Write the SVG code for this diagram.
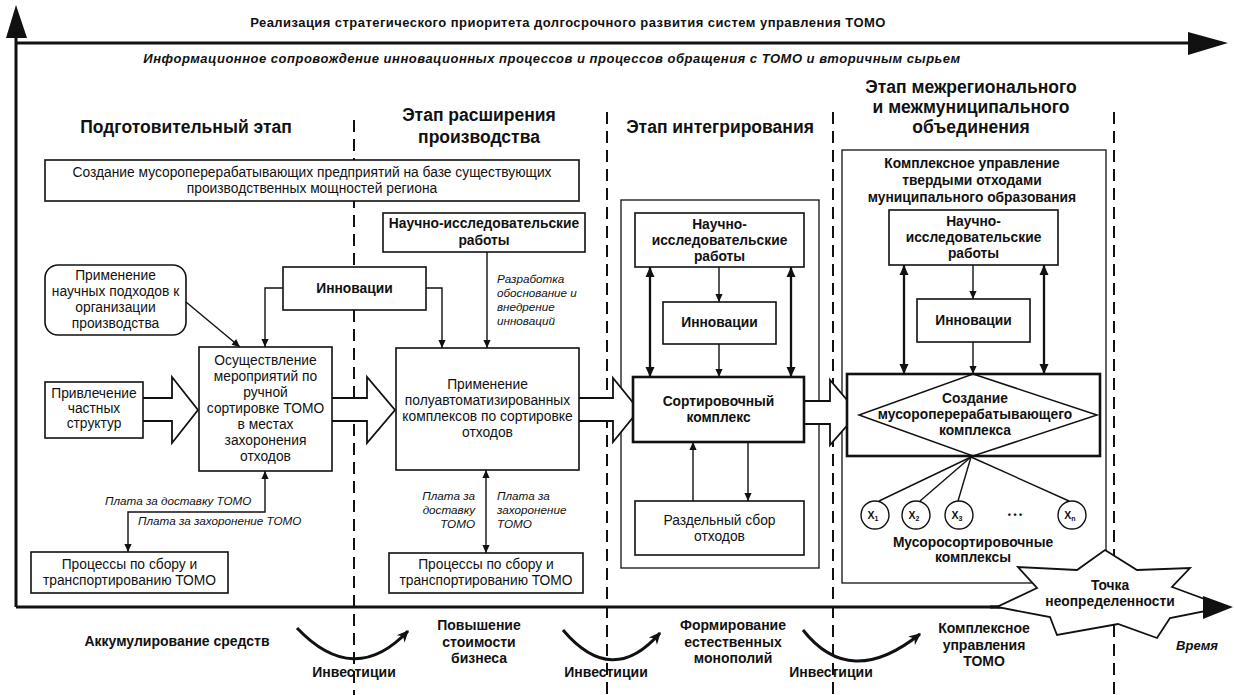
<svg xmlns="http://www.w3.org/2000/svg" width="1234" height="695" viewBox="0 0 1234 695">
  <defs>
    <style>
      text { font-family: "Liberation Sans", Arial, sans-serif; fill: #111; }
      .t { font-size: 13.8px; text-anchor: middle; }
      .b { font-size: 13.8px; font-weight: bold; text-anchor: middle; }
      .h { font-size: 17.5px; font-weight: bold; text-anchor: middle; }
      .i { font-size: 11.7px; font-style: italic; }
      .o { font-size: 14px; font-weight: bold; text-anchor: middle; }
      .box { fill: #fff; stroke: #111; stroke-width: 1.6; }
      .thick { fill: #fff; stroke: #111; stroke-width: 2.6; }
      .frame { fill: none; stroke: #111; stroke-width: 1.3; }
      .dash { stroke: #111; stroke-width: 2; stroke-dasharray: 12 7; fill: none; }
      .ln { fill: none; stroke: #111; stroke-width: 1.4; }
      .ln2 { fill: none; stroke: #111; stroke-width: 2.3; }
      .big { fill: #fff; stroke: #111; stroke-width: 1.8; stroke-linejoin: miter; }
      .axis { fill: none; stroke: #111; stroke-width: 3; }
      .curve { fill: none; stroke: #111; stroke-width: 3; }
    </style>
    <marker id="ah" viewBox="0 0 10 10" refX="10" refY="5" markerWidth="9" markerHeight="8" markerUnits="userSpaceOnUse" orient="auto-start-reverse">
      <path d="M0,0.5 L10,5 L0,9.5 z" fill="#111"/>
    </marker>
    <marker id="ahb" viewBox="0 0 10 10" refX="10" refY="5" markerWidth="14" markerHeight="10" markerUnits="userSpaceOnUse" orient="auto-start-reverse">
      <path d="M0,0.5 L10,5 L0,9.5 z" fill="#111"/>
    </marker>
    <marker id="ahc" viewBox="0 0 10 10" refX="9" refY="5" markerWidth="16" markerHeight="12" markerUnits="userSpaceOnUse" orient="auto">
      <path d="M0,0.5 L10,5 L0,9.5 L3,5 z" fill="#111"/>
    </marker>
  </defs>

  <rect x="0" y="0" width="1234" height="695" fill="#fff"/>

  <!-- stage separators -->
  <g id="separators">
    <line class="dash" x1="354" y1="120" x2="354" y2="695"/>
    <line class="dash" x1="607" y1="112" x2="607" y2="695"/>
    <line class="dash" x1="833" y1="112" x2="833" y2="695"/>
    <line class="dash" x1="1114" y1="112" x2="1114" y2="695"/>
  </g>

  <!-- axes and headers -->
  <g id="axes">
    <line class="axis" x1="16" y1="607" x2="16" y2="36"/>
    <polygon points="6,38 16,5 27,38" fill="#111"/>
    <line class="axis" x1="16" y1="43" x2="1190" y2="43"/>
    <polygon points="1188,32 1228,43 1188,55" fill="#111"/>
    <line class="axis" x1="16" y1="607" x2="1000" y2="607"/>
    <text x="568" y="27" style="font-size:13px;font-weight:bold;text-anchor:middle;letter-spacing:0.45px">Реализация стратегического приоритета долгосрочного развития систем управления ТОМО</text>
    <text x="552" y="63" style="font-size:13px;font-weight:bold;font-style:italic;text-anchor:middle;letter-spacing:0.5px">Информационное сопровождение инновационных процессов и процессов обращения с ТОМО и вторичным сырьем</text>
  </g>

  <g id="stage-titles">
    <text class="h" x="186" y="133">Подготовительный этап</text>
    <text class="h" x="479" y="121">Этап расширения</text>
    <text class="h" x="479" y="143">производства</text>
    <text class="h" x="720" y="133">Этап интегрирования</text>
    <text class="h" x="971" y="93">Этап межрегионального</text>
    <text class="h" x="971" y="113">и межмуниципального</text>
    <text class="h" x="971" y="133">объединения</text>
  </g>

  <!-- frames of stages 3 and 4 -->
  <g id="integration-frame">
    <rect class="frame" x="621" y="200" width="198" height="368"/>
  </g>
  <g id="municipal-frame">
    <rect class="frame" x="842" y="150" width="264" height="433"/>
    <text class="b" x="972" y="168">Комплексное управление</text>
    <text class="b" x="972" y="185">твердыми отходами</text>
    <text class="b" x="972" y="202">муниципального образования</text>
  </g>

  <!-- big hollow flow arrows -->
  <g id="flow-arrows">
    <path class="big" d="M143,398 H172 V377 L198,410 L172,443 V421 H143"/>
    <path class="big" d="M332,398 H367 V377 L395,410 L367,443 V421 H332"/>
    <path class="big" d="M579,398 H613 V378 L639,410 L613,442 V421 H579"/>
    <path class="big" d="M804,401 H830 V380 L858,413 L830,445 V424 H804"/>
  </g>

  <!-- stage 1 -->
  <g id="n-create-enterprises">
    <rect class="box" x="45" y="160" width="534" height="41"/>
    <text class="t" x="312" y="177">Создание мусороперерабатывающих предприятий на базе существующих</text>
    <text class="t" x="312" y="193">производственных мощностей региона</text>
  </g>
  <g id="n-scientific-approach">
    <rect class="box" x="45" y="265" width="141" height="70" rx="13"/>
    <text class="t" x="115.5" y="280">Применение</text>
    <text class="t" x="115.5" y="296">научных подходов к</text>
    <text class="t" x="115.5" y="312">организации</text>
    <text class="t" x="115.5" y="328">производства</text>
  </g>
  <g id="n-innovations-1">
    <rect class="box" x="283" y="267" width="143" height="43"/>
    <text class="b" x="354.5" y="293">Инновации</text>
  </g>
  <g id="n-private">
    <rect class="box" x="45" y="382" width="98" height="56"/>
    <text class="t" x="94" y="398">Привлечение</text>
    <text class="t" x="94" y="413">частных</text>
    <text class="t" x="94" y="428">структур</text>
  </g>
  <g id="n-manual-sorting">
    <rect class="box" x="199" y="347" width="133" height="124"/>
    <text class="t" x="265.5" y="365">Осуществление</text>
    <text class="t" x="265.5" y="381">мероприятий по</text>
    <text class="t" x="265.5" y="397">ручной</text>
    <text class="t" x="265.5" y="413">сортировке ТОМО</text>
    <text class="t" x="265.5" y="429">в местах</text>
    <text class="t" x="265.5" y="445">захоронения</text>
    <text class="t" x="265.5" y="461">отходов</text>
  </g>
  <g id="n-collection-1">
    <rect class="box" x="31" y="552" width="197" height="41"/>
    <text class="t" x="129.5" y="569">Процессы по сбору и</text>
    <text class="t" x="129.5" y="585">транспортированию ТОМО</text>
  </g>

  <!-- stage 2 -->
  <g id="n-research-2">
    <rect class="box" x="383" y="213" width="202" height="39"/>
    <text class="b" x="484" y="228">Научно-исследовательские</text>
    <text class="b" x="484" y="245">работы</text>
  </g>
  <g id="n-semiauto">
    <rect class="box" x="396" y="348" width="183" height="122"/>
    <text class="t" x="487.5" y="389">Применение</text>
    <text class="t" x="487.5" y="405">полуавтоматизированных</text>
    <text class="t" x="487.5" y="421">комплексов по сортировке</text>
    <text class="t" x="487.5" y="437">отходов</text>
  </g>
  <g id="n-collection-2">
    <rect class="box" x="389" y="553" width="194" height="40"/>
    <text class="t" x="486" y="569">Процессы по сбору и</text>
    <text class="t" x="486" y="585">транспортированию ТОМО</text>
  </g>

  <!-- stage 3 -->
  <g id="n-research-3">
    <rect class="box" x="635" y="213" width="169" height="54"/>
    <text class="b" x="719.5" y="229">Научно-</text>
    <text class="b" x="719.5" y="245">исследовательские</text>
    <text class="b" x="719.5" y="261">работы</text>
  </g>
  <g id="n-innovations-3">
    <rect class="box" x="663" y="302" width="113" height="42"/>
    <text class="b" x="719.5" y="327">Инновации</text>
  </g>
  <g id="n-sorting-complex">
    <rect class="thick" x="633" y="377" width="171" height="65"/>
    <text class="b" x="718.5" y="406">Сортировочный</text>
    <text class="b" x="718.5" y="422">комплекс</text>
  </g>
  <g id="n-separate-collection">
    <rect class="box" x="635" y="501" width="169" height="54"/>
    <text class="t" x="719.5" y="525">Раздельный сбор</text>
    <text class="t" x="719.5" y="541">отходов</text>
  </g>

  <!-- stage 4 -->
  <g id="n-research-4">
    <rect class="box" x="889" y="210" width="169" height="55"/>
    <text class="b" x="973.5" y="226">Научно-</text>
    <text class="b" x="973.5" y="242">исследовательские</text>
    <text class="b" x="973.5" y="258">работы</text>
  </g>
  <g id="n-innovations-4">
    <rect class="box" x="917" y="299" width="113" height="43"/>
    <text class="b" x="973.5" y="325">Инновации</text>
  </g>
  <g id="n-processing-complex">
    <rect class="thick" x="847" y="374" width="253" height="82"/>
    <polygon points="973,374 1097,415 973,456 859,415" fill="none" stroke="#111" stroke-width="1.5"/>
    <text class="b" x="975" y="403">Создание</text>
    <text class="b" x="975" y="419">мусороперерабатывающего</text>
    <text class="b" x="975" y="435">комплекса</text>
  </g>
  <g id="n-sorting-units">
    <line class="ln" x1="971" y1="457" x2="879" y2="501"/>
    <line class="ln" x1="971" y1="457" x2="920" y2="501"/>
    <line class="ln" x1="971" y1="457" x2="958" y2="501"/>
    <line class="ln" x1="971" y1="457" x2="1069" y2="501"/>
    <circle cx="875" cy="515" r="14" fill="#fff" stroke="#111" stroke-width="1.4"/>
    <circle cx="916" cy="515" r="14" fill="#fff" stroke="#111" stroke-width="1.4"/>
    <circle cx="959" cy="515" r="14" fill="#fff" stroke="#111" stroke-width="1.4"/>
    <circle cx="1072" cy="515" r="14" fill="#fff" stroke="#111" stroke-width="1.4"/>
    <text x="873" y="519" style="font-size:10.5px;font-weight:bold;text-anchor:middle">X<tspan font-size="7" dy="2">1</tspan></text>
    <text x="914" y="519" style="font-size:10.5px;font-weight:bold;text-anchor:middle">X<tspan font-size="7" dy="2">2</tspan></text>
    <text x="957" y="519" style="font-size:10.5px;font-weight:bold;text-anchor:middle">X<tspan font-size="7" dy="2">3</tspan></text>
    <text x="1070" y="519" style="font-size:10.5px;font-weight:bold;text-anchor:middle">X<tspan font-size="7" dy="2">n</tspan></text>
    <text x="1015" y="518" style="font-size:9px;font-weight:bold;text-anchor:middle">• • •</text>
    <text class="b" x="973" y="547">Мусоросортировочные</text>
    <text class="b" x="973" y="562">комплексы</text>
  </g>

  <!-- connectors -->
  <g id="connectors">
    <line class="ln" x1="186" y1="302" x2="240" y2="347" marker-end="url(#ah)"/>
    <path class="ln" d="M283,288 H265 V347" marker-end="url(#ah)"/>
    <path class="ln" d="M426,288 H442 V348" marker-end="url(#ah)"/>
    <path class="ln" d="M265,471 V512 H128 V552" marker-start="url(#ah)" marker-end="url(#ah)"/>
    <line class="ln" x1="487" y1="252" x2="487" y2="348" marker-end="url(#ah)"/>
    <line class="ln" x1="486" y1="470" x2="486" y2="553" marker-start="url(#ah)" marker-end="url(#ah)"/>

    <line class="ln" x1="719" y1="267" x2="719" y2="302" marker-end="url(#ah)"/>
    <line class="ln" x1="719" y1="344" x2="719" y2="377" marker-end="url(#ah)"/>
    <line class="ln2" x1="650" y1="267" x2="650" y2="377" marker-start="url(#ahb)" marker-end="url(#ahb)"/>
    <line class="ln2" x1="791" y1="267" x2="791" y2="377" marker-start="url(#ahb)" marker-end="url(#ahb)"/>
    <line class="ln" x1="693" y1="501" x2="693" y2="442" marker-end="url(#ah)"/>
    <line class="ln" x1="748" y1="442" x2="748" y2="501" marker-end="url(#ah)"/>

    <line class="ln" x1="973" y1="265" x2="973" y2="299" marker-end="url(#ah)"/>
    <line class="ln" x1="973" y1="342" x2="973" y2="374" marker-end="url(#ah)"/>
    <line class="ln2" x1="904" y1="265" x2="904" y2="374" marker-start="url(#ahb)" marker-end="url(#ahb)"/>
    <line class="ln2" x1="1044" y1="265" x2="1044" y2="374" marker-start="url(#ahb)" marker-end="url(#ahb)"/>

    <text class="i" x="105" y="505">Плата за доставку ТОМО</text>
    <text class="i" x="138" y="525">Плата за захоронение ТОМО</text>
    <text class="i" x="497" y="283">Разработка</text>
    <text class="i" x="497" y="297">обоснование и</text>
    <text class="i" x="497" y="311">внедрение</text>
    <text class="i" x="497" y="325">инноваций</text>
    <text class="i" x="475" y="500" text-anchor="end">Плата за</text>
    <text class="i" x="475" y="514" text-anchor="end">доставку</text>
    <text class="i" x="475" y="528" text-anchor="end">ТОМО</text>
    <text class="i" x="497" y="500">Плата за</text>
    <text class="i" x="497" y="514">захоронение</text>
    <text class="i" x="497" y="528">ТОМО</text>
  </g>

  <!-- uncertainty point on the time axis -->
  <g id="n-uncertainty">
    <line class="axis" x1="990" y1="607" x2="1206" y2="607"/>
    <polygon points="1105,550 1137,570 1190,568 1172,587 1226,607 1170,618 1157,638 1118,624 1057,635 1050,617 997,607 1037,588 1018,567 1077,570" fill="#fff" stroke="#111" stroke-width="1.8" stroke-linejoin="miter"/>
    <polygon points="1203,596 1233,607 1203,619" fill="#111"/>
    <text class="b" x="1110" y="590">Точка</text>
    <text class="b" x="1110" y="606">неопределенности</text>
  </g>

  <!-- results and investments below the time axis -->
  <g id="outcomes">
    <path class="curve" d="M297,628 Q354,688 408,631" marker-end="url(#ahc)"/>
    <path class="curve" d="M563,630 Q612,688 660,633" marker-end="url(#ahc)"/>
    <path class="curve" d="M803,630 Q850,690 920,634" marker-end="url(#ahc)"/>
    <text class="o" x="177" y="646">Аккумулирование средств</text>
    <text class="o" x="354" y="677">Инвестиции</text>
    <text class="o" x="606" y="677">Инвестиции</text>
    <text class="o" x="831" y="677">Инвестиции</text>
    <text class="o" x="479" y="630">Повышение</text>
    <text class="o" x="479" y="647">стоимости</text>
    <text class="o" x="479" y="663">бизнеса</text>
    <text class="o" x="733" y="630">Формирование</text>
    <text class="o" x="733" y="647">естественных</text>
    <text class="o" x="733" y="663">монополий</text>
    <text class="o" x="984" y="633">Комплексное</text>
    <text class="o" x="984" y="650">управления</text>
    <text class="o" x="984" y="666">ТОМО</text>
    <text x="1197" y="650" style="font-size:13px;font-weight:bold;font-style:italic;text-anchor:middle">Время</text>
  </g>
</svg>
